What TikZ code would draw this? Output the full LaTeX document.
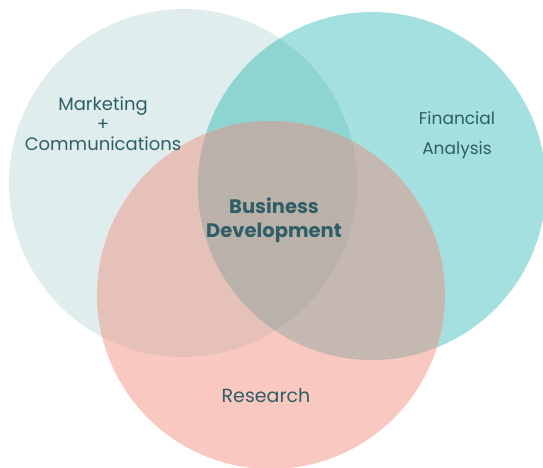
\documentclass[tikz,border=0pt]{standalone}
\usepackage{fontspec}
\setmainfont{Poppins}

\definecolor{mktgfill}{HTML}{DFEEED}
\definecolor{finfill}{HTML}{A4E0DF}
\definecolor{resfill}{HTML}{F9C8C1}
\definecolor{mktgfin}{HTML}{8ED5D2}
\definecolor{mktgres}{HTML}{E6C1B9}
\definecolor{finres}{HTML}{C4B8B0}
\definecolor{allthree}{HTML}{BAB1AB}
\definecolor{labeltext}{HTML}{2F5E66}

\tikzset{
  set label/.style={text=labeltext,align=center,inner sep=0pt,
    font=\fontsize{18}{20}\selectfont},
  core label/.style={set label,font=\bfseries\fontsize{19.5}{24}\selectfont}
}

\begin{document}
\begin{tikzpicture}[x=1pt,y=-1pt]
\useasboundingbox (0,0) rectangle (543,468);
\def\rad{174pt}
\coordinate (mktg) at (183,183);
\coordinate (fin) at (372,186);
\coordinate (res) at (271,295);

% the three sets
\fill[mktgfill] (mktg) circle (\rad);
\fill[finfill] (fin) circle (\rad);
\fill[resfill] (res) circle (\rad);

% overlaps
\begin{scope}
\clip (mktg) circle (\rad);
\fill[mktgfin] (fin) circle (\rad);
\fill[mktgres] (res) circle (\rad);
\end{scope}
\begin{scope}
\clip (fin) circle (\rad);
\fill[finres] (res) circle (\rad);
\clip (mktg) circle (\rad);
\fill[allthree] (res) circle (\rad);
\end{scope}

% labels
\node[set label] (mktglabel) at (103,124) {Marketing\\+\\Communications};
\node[set label,font=\fontsize{17}{30}\selectfont] (finlabel) at (457,135) {Financial\\Analysis};
\node[set label,font=\fontsize{19}{20}\selectfont] (reslabel) at (266,396) {Research};
\node[core label] (bizdev) at (274,220) {Business\\Development};

\end{tikzpicture}
\end{document}
